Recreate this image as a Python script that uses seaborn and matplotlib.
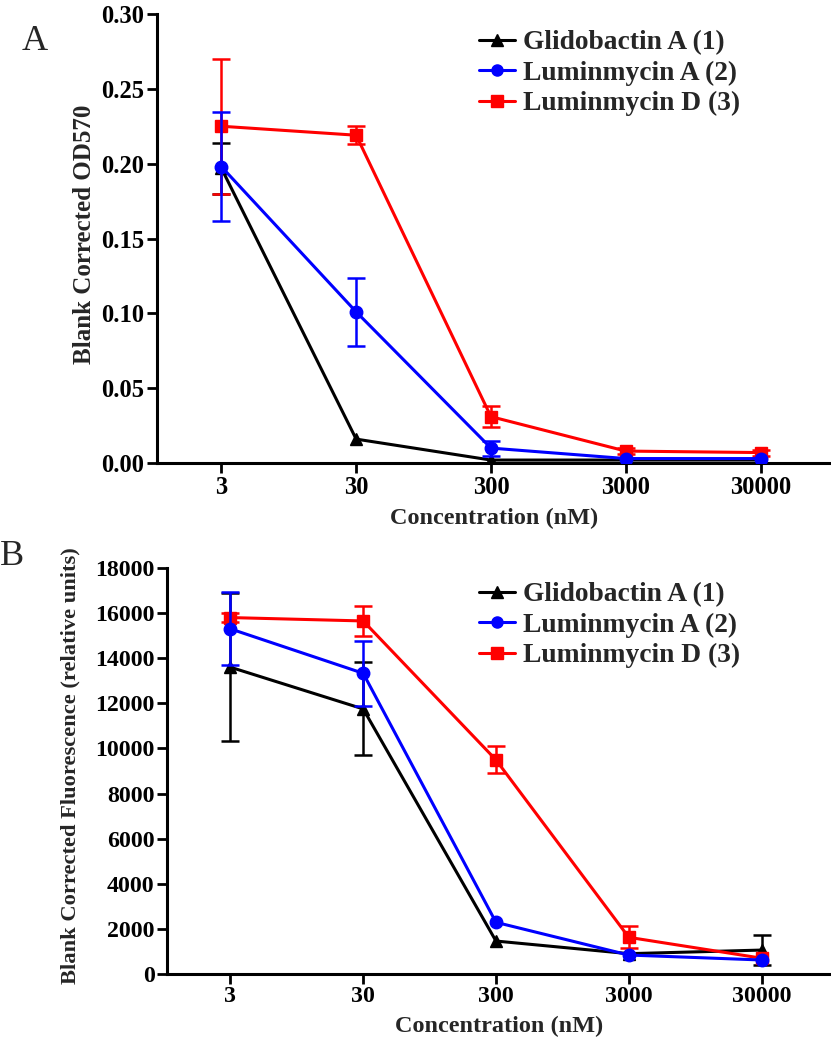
import numpy as np
import pandas as pd
import matplotlib
matplotlib.use("Agg")
import matplotlib.pyplot as plt
from matplotlib.lines import Line2D
import seaborn as sns

# ---------------- data ----------------
conc = [3, 30, 300, 3000, 30000]
conc_labels = ["3", "30", "300", "3000", "30000"]
compounds = ["Glidobactin A (1)", "Luminmycin A (2)", "Luminmycin D (3)"]
colors = ["#000000", "#0000FF", "#FF0000"]
markers = ["^", "o", "s"]

# Panel A: Blank corrected OD570
od_glido = [0.197, 0.016, 0.002, 0.002, 0.002]
od_glido_err = [0.017, 0.0, 0.0, 0.0, 0.0]
od_luma = [0.198, 0.101, 0.010, 0.003, 0.003]
od_luma_err = [0.0365, 0.0228, 0.005, 0.0, 0.0]
od_lumd = [0.225, 0.219, 0.031, 0.008, 0.007]
od_lumd_err = [0.045, 0.006, 0.007, 0.002, 0.002]

# Panel B: Blank corrected fluorescence
fl_glido = [13600, 11750, 1460, 900, 1060]
fl_glido_err = [3270, 2060, 0, 0, 670]
fl_luma = [15300, 13330, 2290, 840, 620]
fl_luma_err = [1620, 1440, 0, 0, 0]
fl_lumd = [15800, 15650, 9490, 1625, 700]
fl_lumd_err = [200, 680, 600, 480, 0]

yticksA = [0.00, 0.05, 0.10, 0.15, 0.20, 0.25, 0.30]
yticksB = [0, 2000, 4000, 6000, 8000, 10000, 12000, 14000, 16000, 18000]

# ---------------- style ----------------
sns.set_theme(style="ticks")
plt.rcParams["font.family"] = ["Liberation Serif", "DejaVu Serif"]
plt.rcParams["font.weight"] = "bold"
plt.rcParams["axes.labelweight"] = "bold"

fig = plt.figure(figsize=(8.31, 10.5), dpi=100)
axA = fig.add_axes([0.189, 0.559, 0.811, 0.4277])
axB = fig.add_axes([0.201, 0.0724, 0.799, 0.3867])

W, H = 831.0, 1050.0


def draw_panel(ax, series, errs, yticks, ylim, fmt, ylabel, ylab_coords, xlab_coords,
               legend_top_px, tick_size):
    draw_order = [0, 2, 1]
    for i in draw_order:
        df = pd.DataFrame({"conc": conc, "value": series[i]})
        sns.lineplot(data=df, x="conc", y="value", ax=ax, color=colors[i],
                     marker=markers[i], markersize=9, linewidth=2.2,
                     markeredgecolor=colors[i], markeredgewidth=1,
                     errorbar=None, zorder=3 + draw_order.index(i))
        e = np.array(errs[i], dtype=float)
        m = e > 0
        ax.errorbar(np.array(conc)[m], np.array(series[i])[m], yerr=e[m], fmt="none",
                    ecolor=colors[i], elinewidth=1.8, capsize=6.5, capthick=1.8,
                    zorder=2.5 + draw_order.index(i))
    ax.set_xscale("log")
    ax.set_xlim(1, 1e5)
    ax.set_xticks(conc)
    ax.set_xticklabels(conc_labels)
    ax.xaxis.set_minor_locator(matplotlib.ticker.NullLocator())
    ax.set_ylim(*ylim)
    ax.set_yticks(yticks)
    ax.set_yticklabels([fmt.format(v) for v in yticks])
    for s in ["top", "right"]:
        ax.spines[s].set_visible(False)
    for s in ["left", "bottom"]:
        ax.spines[s].set_linewidth(2.2)
        ax.spines[s].set_color("black")
    ax.tick_params(axis="both", direction="out", length=7, width=2, labelsize=tick_size,
                   pad=2, colors="black")
    for lab in ax.get_xticklabels() + ax.get_yticklabels():
        lab.set_fontweight("bold")
    ax.set_xlabel("Concentration (nM)", fontsize=17.5, fontweight="bold")
    ax.xaxis.set_label_coords(*xlab_coords)
    ax.set_ylabel(ylabel, fontsize=ylab_coords[2], fontweight="bold")
    ax.yaxis.set_label_coords(ylab_coords[0], ylab_coords[1])
    handles = [Line2D([], [], color=colors[i], marker=markers[i], markersize=8,
                      markeredgecolor=colors[i], linewidth=2.2) for i in range(3)]
    ax.legend(handles, compounds, loc="upper left",
              bbox_to_anchor=(479 / W, 1 - legend_top_px / H),
              bbox_transform=fig.transFigure, frameon=False,
              prop={"family": "Liberation Serif", "weight": "bold", "size": 19.8},
              handlelength=1.3, handletextpad=0.3, labelspacing=0.19,
              borderpad=0, borderaxespad=0)
    ax.set_facecolor("white")


draw_panel(axA, [od_glido, od_luma, od_lumd], [od_glido_err, od_luma_err, od_lumd_err],
           yticksA, (0, 0.30), "{:.2f}", "Blank Corrected OD570",
           (-0.090, 0.51, 18), (0.5, -0.10), 30, 17.7)
draw_panel(axB, [fl_glido, fl_luma, fl_lumd], [fl_glido_err, fl_luma_err, fl_lumd_err],
           yticksB, (0, 18000), "{:d}", "Blank Corrected Fluorescence (relative units)",
           (-0.13, 0.512, 16.2), (0.5, -0.103), 582, 17.2)

fig.text(22 / W, 1 - 50 / H, "A", fontsize=26, fontweight="normal",
         family="Liberation Serif", va="baseline", ha="left")
fig.text(0 / W, 1 - 565 / H, "B", fontsize=26, fontweight="normal",
         family="Liberation Serif", va="baseline", ha="left")

fig.savefig("out.png", dpi=100, facecolor="white")
